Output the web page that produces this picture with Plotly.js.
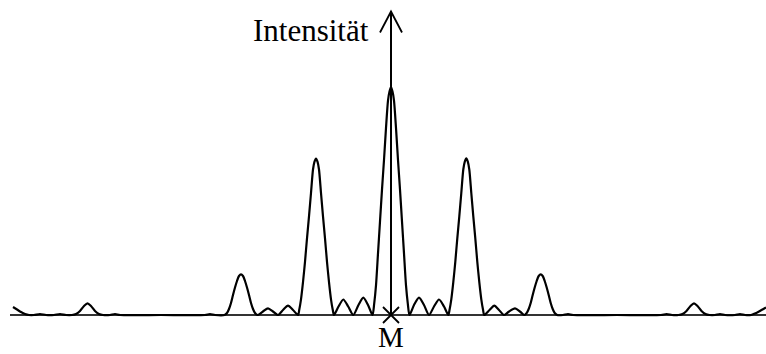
<!DOCTYPE html>
<html>
<head>
<meta charset="utf-8">
<script src="https://cdn.plot.ly/plotly-3.0.1.min.js"></script>
<style>html,body{margin:0;padding:0;background:#fff;}#chart{width:766px;height:354px;}</style>
</head>
<body>
<div id="chart"></div>
<script>
// Position along the screen (relative to the centre M) and intensity
const position = [
  -378, -374, -370, -366, -362, -357, -351, -345, -337, -331, -325,
  -319, -315, -311, -307, -303.5, -300, -296, -292, -288,
  -281, -276, -271, -230, -186, -181, -176,
  -166.5, -164, -162, -160, -158, -156, -154, -152, -150, -148, -146, -144, -142, -140, -138, -136, -133.5,
  -128, -123, -118, -113, -108, -103, -98,
  -93, -91.7, -90, -88, -86, -84, -82, -80, -78, -76.5, -75, -73.5, -72, -70, -68, -66, -64, -62, -60, -58.3, -57,
  -52.5, -47.7, -42.8, -37.7, -32.5, -27.7, -23,
  -18.5, -16.8, -15, -13, -11, -9, -7, -5, -3, -1.5, 0, 1.5, 3, 5, 7, 9, 11, 13, 15, 16.8, 18.5,
  23, 28, 33, 38, 43, 48, 53,
  57.3, 58.6, 60.3, 62.3, 64.3, 66.3, 68.3, 70.3, 72.3, 73.8, 75.3, 76.8, 78.3, 80.3, 82.3, 84.3, 86.3, 88.3, 90.3, 92, 93.3,
  98.5, 103.3, 108, 113, 118, 124, 129,
  133.3, 135.7, 137.7, 139.7, 141.7, 143.7, 145.7, 147.7, 149.7, 151.7, 153.7, 155.7, 157.7, 159.7, 161.7, 163.7, 166.2,
  172, 177, 182, 226, 270, 275.7, 281,
  287.5, 291.5, 295.5, 299.5, 303, 306.5, 310.5, 314.5, 318.5,
  324, 329, 334, 344, 349, 354, 360, 364, 368, 372, 375
];
const intensity = [
  8, 5.5, 3, 1, 0, 0, 1, 0, 0, 1, 0,
  0, 1, 4, 9, 11.7, 9, 4, 1, 0,
  0, 1, 0, 0, 0, 1, 0,
  0, 2, 6, 12, 20, 27.5, 34, 39, 40.7, 39, 34, 27.5, 20, 12, 6, 2, 0,
  3.5, 6.7, 3.5, 0, 5, 9.3, 5,
  0, 5.5, 15.7, 32.9, 53.2, 76.7, 98.6, 122, 145.5, 153.4, 156.5, 153.4, 145.5, 122, 98.6, 76.7, 53.2, 32.9, 15.7, 5.5, 0,
  8.5, 15.5, 8.5, 0, 10, 17.3, 10,
  0, 11.4, 29.6, 61.6, 93.5, 125.4, 155, 187, 214.3, 223.4, 228, 223.4, 214.3, 187, 155, 125.4, 93.5, 61.6, 29.6, 11.4, 0,
  10, 17.3, 10, 0, 8.5, 15.5, 8.5,
  0, 5.5, 15.7, 32.9, 53.2, 76.7, 98.6, 122, 145.5, 153.4, 156.7, 153.4, 145.5, 122, 98.6, 76.7, 53.2, 32.9, 15.7, 5.5, 0,
  5, 9.3, 5, 0, 3.5, 6.7, 3.5,
  0, 2, 6, 12, 20, 27.5, 34, 39, 40.7, 39, 34, 27.5, 20, 12, 6, 2, 0,
  0, 1, 0, 0, 0, 1, 0,
  0, 1, 4, 9, 11.7, 9, 4, 1, 0,
  0, 1, 0, 0, 1, 0, 0, 1.5, 3.5, 5.8, 7.5
];
// Centre mark M and the top of the intensity axis
const centreX = [0];
const centreY = [0];
const axisTop = 303.5;
const labels = {axis: 'Intensität', centre: 'M'};

const serif = 'Liberation Serif, Times New Roman, serif';

const traces = [
  {
    x: position, y: intensity, mode: 'lines', type: 'scatter',
    line: {color: '#000', width: 2.2, shape: 'spline', smoothing: 0.7},
    hoverinfo: 'skip', cliponaxis: false
  },
  {
    x: centreX, y: centreY, mode: 'markers', type: 'scatter',
    marker: {symbol: 'x-thin', size: 16, line: {color: '#000', width: 1.8}},
    hoverinfo: 'skip', cliponaxis: false
  }
];

const layout = {
  width: 766, height: 354,
  margin: {l: 0, r: 0, t: 0, b: 0, pad: 0},
  paper_bgcolor: '#fff', plot_bgcolor: '#fff',
  showlegend: false,
  xaxis: {
    domain: [10 / 766, 1], range: [-381, 375],
    showgrid: false, zeroline: false, showticklabels: false, ticks: '', showline: false
  },
  yaxis: {
    range: [-39, 315],
    showgrid: false, zeroline: true, zerolinecolor: '#333', zerolinewidth: 2,
    showticklabels: false, ticks: '', showline: false
  },
  shapes: [
    // vertical intensity axis
    {type: 'line', xref: 'x', yref: 'y', x0: centreX[0], x1: centreX[0], y0: centreY[0], y1: axisTop,
     line: {color: '#000', width: 2}, layer: 'above'},
    // open arrow head, sized in pixels at the axis tip
    {type: 'path', xref: 'x', yref: 'y', xsizemode: 'pixel', ysizemode: 'pixel',
     xanchor: centreX[0], yanchor: axisTop,
     path: 'M -11,-21 L 0,0 L 11,-21',
     line: {color: '#000', width: 1.8}, layer: 'above'}
  ],
  annotations: [
    {
      x: -20, y: 285, xref: 'x', yref: 'y', xanchor: 'right', yanchor: 'middle',
      text: labels.axis, showarrow: false,
      font: {family: serif, size: 31, color: '#000'}
    },
    {
      x: 0, y: -22, xref: 'x', yref: 'y', xanchor: 'center', yanchor: 'middle',
      text: labels.centre, showarrow: false,
      font: {family: serif, size: 29, color: '#000'}
    }
  ]
};

Plotly.newPlot('chart', traces, layout, {displayModeBar: false, staticPlot: true});
</script>
</body>
</html>
